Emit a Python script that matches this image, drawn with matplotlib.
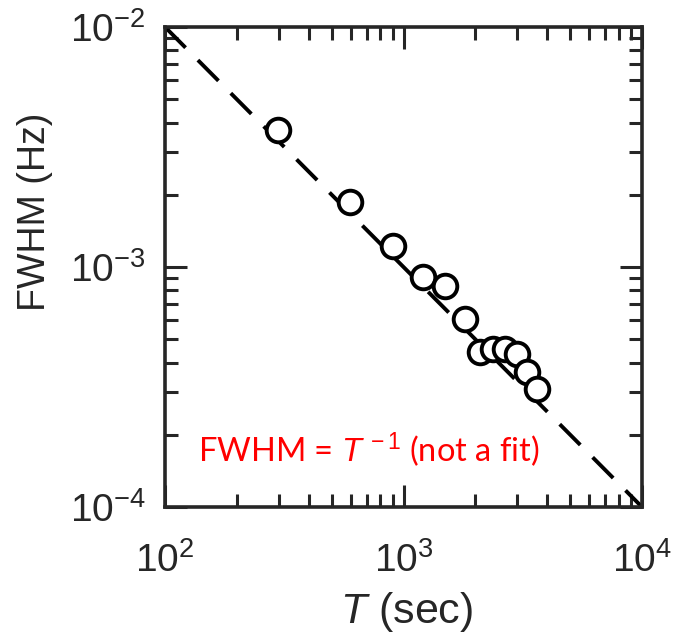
import numpy as np
import matplotlib; matplotlib.use("Agg")
import matplotlib.pyplot as plt

plt.rcParams["font.family"] = ["Liberation Sans", "DejaVu Sans"]
plt.rcParams["mathtext.fontset"] = "custom"
plt.rcParams["mathtext.rm"] = "Liberation Sans"
plt.rcParams["mathtext.it"] = "Liberation Sans:italic"

# measured points
T_sec = [299, 597, 906, 1203, 1493, 1812, 2095, 2384, 2668, 2985, 3290, 3613]
fwhm_hz = [3.73e-3, 1.87e-3, 1.22e-3, 9.12e-4, 8.33e-4, 6.05e-4,
           4.43e-4, 4.54e-4, 4.54e-4, 4.36e-4, 3.66e-4, 3.09e-4]
# FWHM = 1/T reference line
T_line = np.array([1e2, 1e4])
fwhm_line = 1.0 / T_line

dark = "#262626"
fig = plt.figure(figsize=(6.79, 6.43), dpi=100)
ax = fig.add_axes([165/679, 1-507/643, 477/679, 480/643])

ax.plot(T_line, fwhm_line, color="black", lw=2.8, dashes=(7.5, 4.5), zorder=2)
ax.plot(T_sec, fwhm_hz, "o", ms=17, mfc="white", mec="black", mew=2.8, zorder=3)

ax.set_xscale("log"); ax.set_yscale("log")
ax.set_xlim(1e2, 1e4); ax.set_ylim(1e-4, 1e-2)

for s in ax.spines.values():
    s.set_linewidth(2.6); s.set_color(dark)
ax.tick_params(which="both", direction="in", top=True, right=True, colors=dark, labelsize=28)
ax.tick_params(which="major", length=16, width=2.2)
ax.tick_params(which="minor", length=9.5, width=2.2)
ax.tick_params(axis="x", pad=25)
ax.tick_params(axis="y", pad=14)

fig.text(35/679, 1-212/643, "FWHM (Hz)", rotation=90, ha="center", va="center",
         fontsize=27, color=dark)
fig.text(407/679, 1-612/643, r"$\mathit{T}$ (sec)", ha="center", va="center",
         fontsize=31, color=dark)

ax.text(0.069, 0.094, r"FWHM = $\mathit{T}^{\,-1}$ (not a fit)", transform=ax.transAxes,
        color="red", fontsize=23.5, family=["Lato", "DejaVu Sans"], va="baseline", ha="left")

fig.savefig("out.png", dpi=100)
